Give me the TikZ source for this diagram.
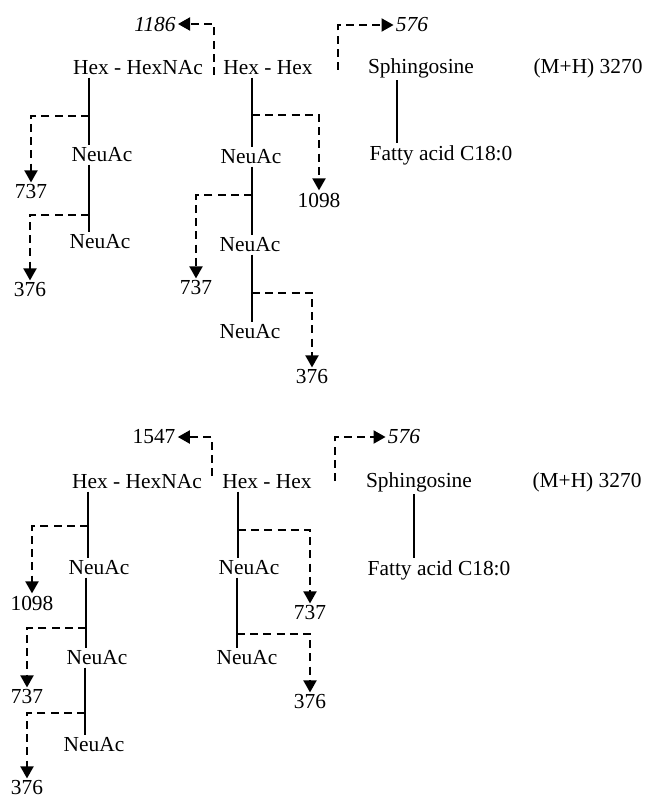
\documentclass[tikz,border=0pt]{standalone}
\usepackage{fontspec}
\setmainfont{Liberation Serif}
\usetikzlibrary{positioning,arrows.meta}

\begin{document}
\begin{tikzpicture}[x=0.5pt, y=-0.5pt,
    every node/.style={inner sep=1pt, font=\fontsize{10.7}{12.8}\selectfont},
    bond/.style={line width=0.7pt},
    frag/.style={line width=1pt, dash pattern=on 4pt off 2.6pt, -{Triangle[width=6.5pt,length=6pt]}}]
    \useasboundingbox (0,0) rectangle (649,797);

    % Upper structure
    \node (hhn) at (138,68) {Hex - HexNAc};
    \node (hh) at (268,68) {Hex - Hex};
    \node (sph) at (421,68) {Sphingosine};
    \node (mh) at (588,68) {(M+H) 3270};
    \node (fa) at (441,155) {Fatty acid C18:0};
    \node (na1) at (102,155) {NeuAc};
    \node (na2) at (100,242) {NeuAc};
    \node (nb1) at (251,157) {NeuAc};
    \node (nb2) at (250,245) {NeuAc};
    \node (nb3) at (250,332) {NeuAc};

    % Fragment masses
    \node (f1186) at (155,24) {\itshape 1186};
    \node (f576) at (412,25) {\itshape 576};
    \node (f737a) at (31,192) {737};
    \node (f376a) at (30,290) {376};
    \node (f1098) at (319,200) {1098};
    \node (f737b) at (196,288) {737};
    \node (f376b) at (312,377) {376};

    % Bonds and cleavages
    \coordinate (ca1) at (89,116);
    \coordinate (ca2) at (89,215);
    \coordinate (cb1) at (252,115);
    \coordinate (cb2) at (252,195);
    \coordinate (cb3) at (252,293);
    \coordinate (cs) at (397,110);
    \draw[bond] (hhn.south -| ca1) -- (na1.north -| ca1);
    \draw[bond] (na1.south -| ca2) -- (na2.north -| ca2);
    \draw[bond] (hh.south -| cb1) -- (nb1.north -| cb1);
    \draw[bond] (nb1.south -| cb2) -- (nb2.north -| cb2);
    \draw[bond] (nb2.south -| cb3) -- (nb3.north -| cb3);
    \draw[bond] (sph.south -| cs) -- (fa.north -| cs);
    \draw[frag] (ca1) -| (f737a.north);
    \draw[frag] (ca2) -| (f376a.north);
    \draw[frag] (cb1) -| (f1098.north);
    \draw[frag] (cb2) -| (f737b.north);
    \draw[frag] (cb3) -| (f376b.north);
    \coordinate (cx1) at (214,75);
    \coordinate (cx2) at (338,70);
    \draw[frag] (cx1) |- (f1186.east);
    \draw[frag] (cx2) |- (f576.west);

    % Lower structure
    \node (hhn2) at (137,482) {Hex - HexNAc};
    \node (hh2) at (267,482) {Hex - Hex};
    \node (sph2) at (419,482) {Sphingosine};
    \node (mh2) at (587,482) {(M+H) 3270};
    \node (fa2) at (439,570) {Fatty acid C18:0};
    \node (na4) at (99,568) {NeuAc};
    \node (na5) at (97,658) {NeuAc};
    \node (na6) at (94,745) {NeuAc};
    \node (nb4) at (249,568) {NeuAc};
    \node (nb5) at (247,658) {NeuAc};

    % Fragment masses
    \node (g1547) at (154,437) {1547};
    \node (g576) at (404,437) {\itshape 576};
    \node (g1098) at (32,603) {1098};
    \node (g737c) at (27,697) {737};
    \node (g376c) at (27,788) {376};
    \node (g737d) at (310,613) {737};
    \node (g376d) at (310,702) {376};

    % Bonds and cleavages
    \coordinate (da1) at (88,526);
    \coordinate (da2) at (86,628);
    \coordinate (da3) at (85,713);
    \coordinate (db1) at (238,530);
    \coordinate (db2) at (237,634);
    \coordinate (ds) at (414,525);
    \draw[bond] (hhn2.south -| da1) -- (na4.north -| da1);
    \draw[bond] (na4.south -| da2) -- (na5.north -| da2);
    \draw[bond] (na5.south -| da3) -- (na6.north -| da3);
    \draw[bond] (hh2.south -| db1) -- (nb4.north -| db1);
    \draw[bond] (nb4.south -| db2) -- (nb5.north -| db2);
    \draw[bond] (sph2.south -| ds) -- (fa2.north -| ds);
    \draw[frag] (da1) -| (g1098.north);
    \draw[frag] (da2) -| (g737c.north);
    \draw[frag] (da3) -| (g376c.north);
    \draw[frag] (db1) -| (g737d.north);
    \draw[frag] (db2) -| (g376d.north);
    \coordinate (dx1) at (212,476);
    \coordinate (dx2) at (335,481);
    \draw[frag] (dx1) |- (g1547.east);
    \draw[frag] (dx2) |- (g576.west);
\end{tikzpicture}
\end{document}
